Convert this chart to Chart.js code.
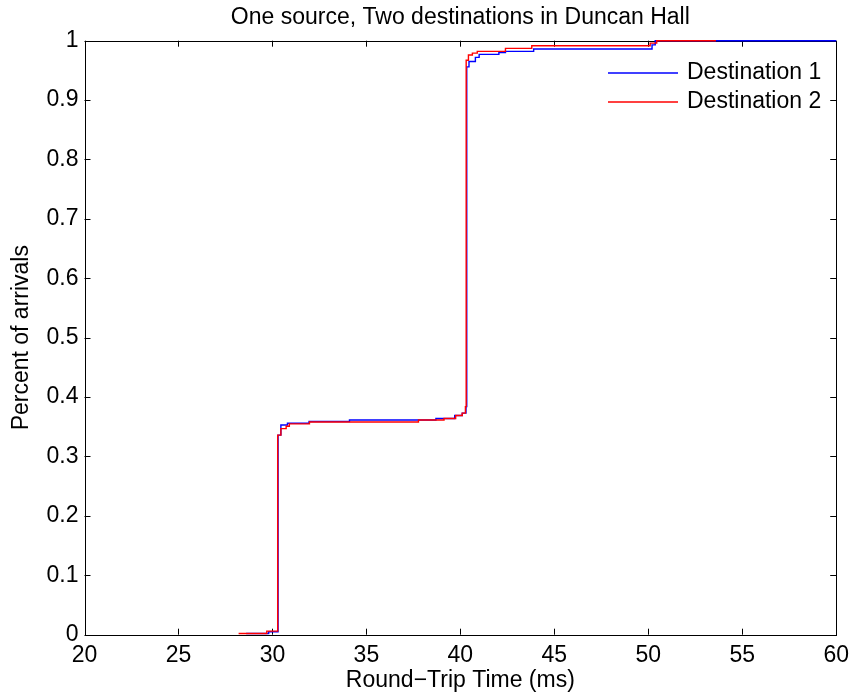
<!DOCTYPE html>
<html>
<head>
<meta charset="utf-8">
<script src="https://cdn.jsdelivr.net/npm/chart.js@4"></script>
<style>
  html, body { margin: 0; padding: 0; background: #fff; }
</style>
</head>
<body>
<canvas id="cdf" width="856" height="698"></canvas>
<script>
// Cumulative share of arrivals against round-trip time (ms)
const dest1Times = [28.6, 29.8, 30.3, 30.45, 30.8, 31.95, 34.1, 38.7, 39.7, 40.1, 40.3, 40.34, 40.46, 40.8, 41.0, 42.05, 42.4, 43.9, 50.2, 50.37, 60];
const dest1Share = [0.002, 0.005, 0.336, 0.353, 0.356, 0.359, 0.3615, 0.364, 0.369, 0.373, 0.384, 0.956, 0.965, 0.972, 0.977, 0.98, 0.982, 0.986, 0.993, 1.0, 1.0];

const dest2Times = [28.2, 29.7, 30.28, 30.45, 30.73, 30.9, 31.97, 37.77, 39.13, 39.75, 40.1, 40.27, 40.31, 40.43, 40.64, 40.9, 42.4, 43.8, 50.1, 50.45, 53.6];
const dest2Share = [0.002, 0.006, 0.336, 0.347, 0.351, 0.355, 0.358, 0.3615, 0.364, 0.369, 0.373, 0.384, 0.967, 0.976, 0.979, 0.982, 0.987, 0.9915, 0.996, 1.0, 1.0];

const seriesNames = ['Destination 1', 'Destination 2'];
const xTicks = [20, 25, 30, 35, 40, 45, 50, 55, 60];
const yTicks = [0, 0.1, 0.2, 0.3, 0.4, 0.5, 0.6, 0.7, 0.8, 0.9, 1];

const FONT = '"Liberation Sans", Arial, Helvetica, sans-serif';
const FS = 23;

function toPoints(xs, ys) {
    return xs.map((x, i) => ({ x: x, y: ys[i] }));
}

// box around the axes with inward ticks on all four sides
const framePlugin = {
    id: 'frame',
    beforeDatasetsDraw(chart) {
        const { ctx, chartArea: a, scales } = chart;
        const len = 6;
        ctx.save();
        ctx.strokeStyle = '#000';
        ctx.lineWidth = 1;
        ctx.beginPath();
        xTicks.forEach(v => {
            const px = Math.round(scales.x.getPixelForValue(v)) + 0.5;
            ctx.moveTo(px, a.bottom); ctx.lineTo(px, a.bottom - len);
            ctx.moveTo(px, a.top); ctx.lineTo(px, a.top + len);
        });
        yTicks.forEach(v => {
            const py = Math.round(scales.y.getPixelForValue(v)) + 0.5;
            ctx.moveTo(a.left, py); ctx.lineTo(a.left + len, py);
            ctx.moveTo(a.right, py); ctx.lineTo(a.right - len, py);
        });
        ctx.stroke();
        ctx.strokeRect(Math.round(a.left) + 0.5, Math.round(a.top) + 0.5,
            Math.round(a.right) - Math.round(a.left), Math.round(a.bottom) - Math.round(a.top));
        ctx.restore();
    }
};

// legend in the upper right corner, no box
const legendPlugin = {
    id: 'cornerLegend',
    afterDraw(chart) {
        const ctx = chart.ctx;
        ctx.save();
        ctx.font = FS + 'px ' + FONT;
        ctx.textBaseline = 'middle';
        chart.data.datasets.forEach((ds, i) => {
            const y = 73 + i * 29;
            ctx.strokeStyle = ds.borderColor;
            ctx.lineWidth = 1.3;
            ctx.beginPath();
            ctx.moveTo(608, y);
            ctx.lineTo(678, y);
            ctx.stroke();
            ctx.fillStyle = '#000';
            ctx.fillText(ds.label, 687, y);
        });
        ctx.restore();
    }
};

new Chart(document.getElementById('cdf'), {
    type: 'line',
    data: {
        datasets: [
            {
                label: seriesNames[0],
                data: toPoints(dest1Times, dest1Share),
                borderColor: '#0000ff',
                borderWidth: 1.4,
                stepped: 'before',
                pointRadius: 0,
                fill: false,
                clip: false,
                order: 1
            },
            {
                label: seriesNames[1],
                data: toPoints(dest2Times, dest2Share),
                borderColor: '#ff0000',
                borderWidth: 1.4,
                stepped: 'before',
                pointRadius: 0,
                fill: false,
                clip: false,
                order: 0
            }
        ]
    },
    options: {
        responsive: false,
        devicePixelRatio: 1,
        animation: false,
        layout: { padding: { left: 0, right: 17, top: 0, bottom: 0 } },
        plugins: {
            legend: { display: false },
            tooltip: { enabled: false },
            title: {
                display: true,
                fullSize: false,
                text: 'One source, Two destinations in Duncan Hall',
                color: '#000',
                font: { family: FONT, size: FS, weight: 'normal', lineHeight: 1.2 },
                padding: { top: 3.7, bottom: 9.4 }
            }
        },
        scales: {
            x: {
                type: 'linear',
                min: 20,
                max: 60,
                afterBuildTicks: s => { s.ticks = xTicks.map(v => ({ value: v })); },
                afterFit: s => { s.height = 63.3; },
                grid: { display: false, drawTicks: false },
                border: { display: false },
                ticks: {
                    color: '#000',
                    padding: 7,
                    maxRotation: 0,
                    font: { family: FONT, size: FS },
                    callback: v => String(v)
                },
                title: {
                    display: true,
                    text: 'Round\u2212Trip Time (ms)',
                    color: '#000',
                    font: { family: FONT, size: FS, lineHeight: 1.2 },
                    padding: { top: 0, bottom: 3.2 }
                }
            },
            y: {
                type: 'linear',
                min: 0,
                max: 1,
                afterBuildTicks: s => { s.ticks = yTicks.map(v => ({ value: v })); },
                afterFit: s => { s.width = 84.5; },
                grid: { display: false, drawTicks: false },
                border: { display: false },
                ticks: {
                    color: '#000',
                    padding: 6,
                    font: { family: FONT, size: FS },
                    callback: v => String(v)
                },
                title: {
                    display: true,
                    text: 'Percent of arrivals',
                    color: '#000',
                    font: { family: FONT, size: FS, lineHeight: 1.2 },
                    padding: { top: 8.2, bottom: 0 }
                }
            }
        }
    },
    plugins: [framePlugin, legendPlugin]
});
</script>
</body>
</html>
